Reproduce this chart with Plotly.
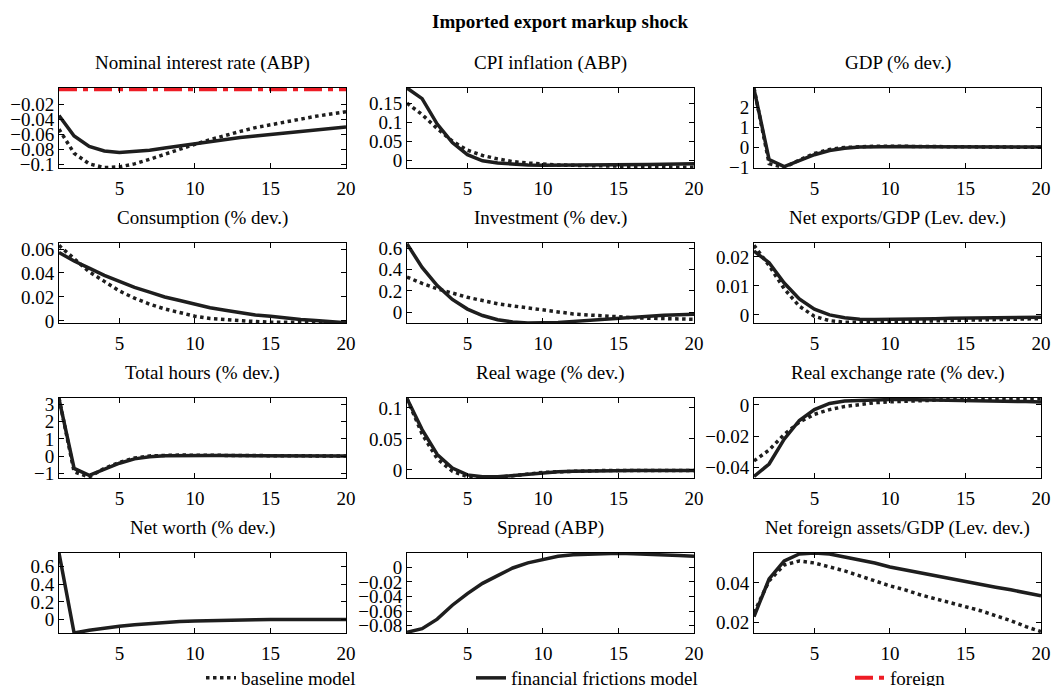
import plotly.graph_objects as go

W, H = 1053, 686
periods = list(range(1, 21))

# ---------------- data ----------------
nir_base = [-0.053, -0.085, -0.099, -0.104, -0.103, -0.099, -0.093, -0.086, -0.079, -0.073,
            -0.067, -0.061, -0.056, -0.051, -0.047, -0.043, -0.039, -0.036, -0.033, -0.030]
nir_ff = [-0.035, -0.062, -0.076, -0.082, -0.084, -0.083, -0.081, -0.078, -0.075, -0.072,
          -0.069, -0.066, -0.064, -0.062, -0.060, -0.058, -0.056, -0.054, -0.052, -0.050]
nir_foreign = [0, 0, 0, 0, 0, 0, 0, 0, 0, 0, 0, 0, 0, 0, 0, 0, 0, 0, 0, 0]

cpi_base = [0.150, 0.120, 0.083, 0.050, 0.026, 0.012, 0.003, -0.004, -0.008, -0.011,
            -0.013, -0.014, -0.015, -0.016, -0.017, -0.017, -0.018, -0.018, -0.019, -0.019]
cpi_ff = [0.190, 0.162, 0.095, 0.046, 0.014, -0.002, -0.008, -0.011, -0.013, -0.014,
          -0.014, -0.014, -0.014, -0.013, -0.013, -0.012, -0.012, -0.011, -0.011, -0.010]

gdp_base = [2.95, -0.80, -1.00, -0.62, -0.30, -0.10, 0.00, 0.05, 0.06, 0.06,
            0.05, 0.05, 0.04, 0.04, 0.03, 0.03, 0.02, 0.02, 0.01, 0.01]
gdp_ff = [2.90, -0.60, -0.95, -0.66, -0.36, -0.15, -0.04, 0.02, 0.04, 0.05,
          0.05, 0.04, 0.04, 0.04, 0.03, 0.03, 0.03, 0.02, 0.02, 0.02]

cons_base = [0.063, 0.052, 0.041, 0.033, 0.025, 0.019, 0.014, 0.010, 0.007, 0.004,
             0.002, 0.001, 0.000, -0.0005, -0.001, -0.0012, -0.0013, -0.0014, -0.0015, -0.0015]
cons_ff = [0.057, 0.050, 0.044, 0.038, 0.033, 0.028, 0.024, 0.020, 0.017, 0.014,
           0.011, 0.009, 0.007, 0.005, 0.004, 0.0025, 0.0013, 0.0003, -0.0007, -0.0015]

inv_base = [0.33, 0.27, 0.22, 0.18, 0.14, 0.11, 0.08, 0.06, 0.04, 0.02,
            0.005, -0.015, -0.025, -0.035, -0.045, -0.05, -0.055, -0.06, -0.065, -0.065]
inv_ff = [0.64, 0.42, 0.25, 0.12, 0.03, -0.03, -0.07, -0.09, -0.10, -0.10,
          -0.095, -0.085, -0.075, -0.062, -0.05, -0.042, -0.035, -0.028, -0.022, -0.018]

nx_base = [0.024, 0.017, 0.009, 0.003, -0.0005, -0.002, -0.0025, -0.0026, -0.0025, -0.0024,
           -0.0023, -0.0021, -0.0020, -0.0019, -0.0018, -0.0017, -0.0016, -0.0015, -0.0014, -0.0013]
nx_ff = [0.022, 0.018, 0.011, 0.0055, 0.002, 0.0, -0.001, -0.0015, -0.0016, -0.0016,
         -0.0015, -0.0014, -0.0013, -0.0012, -0.0011, -0.0011, -0.0010, -0.0009, -0.0009, -0.0008]

hours_base = [3.35, -0.90, -1.20, -0.70, -0.35, -0.10, 0.02, 0.06, 0.07, 0.06,
              0.05, 0.05, 0.04, 0.04, 0.03, 0.03, 0.02, 0.02, 0.01, 0.01]
hours_ff = [3.30, -0.70, -1.10, -0.75, -0.40, -0.15, -0.03, 0.03, 0.05, 0.05,
            0.05, 0.04, 0.04, 0.04, 0.03, 0.03, 0.03, 0.02, 0.02, 0.02]

wage_base = [0.115, 0.058, 0.018, -0.002, -0.011, -0.013, -0.012, -0.009, -0.006, -0.004,
             -0.003, -0.002, -0.0015, -0.001, -0.001, -0.001, -0.001, -0.001, -0.001, -0.001]
wage_ff = [0.115, 0.065, 0.025, 0.003, -0.008, -0.011, -0.011, -0.009, -0.006, -0.004,
           -0.003, -0.002, -0.0015, -0.001, -0.001, -0.001, -0.001, -0.001, -0.001, -0.001]

rer_base = [-0.036, -0.029, -0.019, -0.011, -0.006, -0.003, -0.001, 0.0005, 0.0015, 0.002,
            0.0025, 0.003, 0.0033, 0.0035, 0.0037, 0.0038, 0.0039, 0.004, 0.004, 0.004]
rer_ff = [-0.046, -0.038, -0.022, -0.010, -0.003, 0.001, 0.0025, 0.003, 0.0035, 0.0035,
          0.0035, 0.0034, 0.0033, 0.0032, 0.003, 0.0028, 0.0026, 0.0024, 0.0022, 0.002]

nw_ff = [0.75, -0.15, -0.12, -0.095, -0.075, -0.058, -0.044, -0.032, -0.022, -0.015,
         -0.009, -0.005, -0.002, 0.0, 0.001, 0.0015, 0.002, 0.002, 0.002, 0.002]

spread_ff = [-0.089, -0.084, -0.071, -0.052, -0.036, -0.022, -0.0115, -0.001, 0.006, 0.011,
             0.015, 0.017, 0.018, 0.019, 0.019, 0.0185, 0.018, 0.017, 0.016, 0.015]

nfa_base = [0.025, 0.041, 0.049, 0.051, 0.050, 0.048, 0.046, 0.0435, 0.041, 0.0385,
            0.0365, 0.034, 0.032, 0.030, 0.028, 0.026, 0.0235, 0.021, 0.018, 0.0155]
nfa_ff = [0.023, 0.042, 0.051, 0.0545, 0.055, 0.0545, 0.053, 0.0515, 0.050, 0.048,
          0.0465, 0.045, 0.0435, 0.042, 0.0405, 0.039, 0.0378, 0.0365, 0.035, 0.0335]

panel_titles = ["Nominal interest rate (ABP)", "CPI inflation (ABP)", "GDP (% dev.)",
                "Consumption (% dev.)", "Investment (% dev.)", "Net exports/GDP (Lev. dev.)",
                "Total hours (% dev.)", "Real wage (% dev.)", "Real exchange rate (% dev.)",
                "Net worth (% dev.)", "Spread (ABP)", "Net foreign assets/GDP (Lev. dev.)"]

y_ticks = [[-0.1, -0.08, -0.06, -0.04, -0.02], [0, 0.05, 0.1, 0.15], [-1, 0, 1, 2],
           [0, 0.02, 0.04, 0.06], [0, 0.2, 0.4, 0.6], [0, 0.01, 0.02],
           [-1, 0, 1, 2, 3], [0, 0.05, 0.1], [-0.04, -0.02, 0],
           [0, 0.2, 0.4, 0.6], [-0.08, -0.06, -0.04, -0.02, 0], [0.02, 0.04]]
y_ticklabels = [["−0.1", "−0.08", "−0.06", "−0.04", "−0.02"], ["0", "0.05", "0.1", "0.15"],
                ["−1", "0", "1", "2"], ["0", "0.02", "0.04", "0.06"], ["0", "0.2", "0.4", "0.6"],
                ["0", "0.01", "0.02"], ["−1", "0", "1", "2", "3"], ["0", "0.05", "0.1"],
                ["−0.04", "−0.02", "0"], ["0", "0.2", "0.4", "0.6"],
                ["−0.08", "−0.06", "−0.04", "−0.02", "0"], ["0.02", "0.04"]]
x_ticks = [5, 10, 15, 20]
x_ticklabels = ["5", "10", "15", "20"]

baseline_series = [nir_base, cpi_base, gdp_base, cons_base, inv_base, nx_base,
                   hours_base, wage_base, rer_base, None, None, nfa_base]
ff_series = [nir_ff, cpi_ff, gdp_ff, cons_ff, inv_ff, nx_ff,
             hours_ff, wage_ff, rer_ff, nw_ff, spread_ff, nfa_ff]

y_ranges = [[-0.1045, 0.0015], [-0.021, 0.19], [-1.02, 2.95],
            [-0.0017, 0.065], [-0.10, 0.648], [-0.0028, 0.0248],
            [-1.25, 3.35], [-0.013, 0.116], [-0.047, 0.0045],
            [-0.15, 0.75], [-0.09, 0.0195], [0.0148, 0.055]]

# ---------------- layout geometry (pixels) ----------------
col_px = [(59, 346), (407, 694), (754, 1041)]
row_px = [(88, 168), (243, 323), (398, 478), (553, 633)]

FONT = "Liberation Serif"
FS = 19

fig = go.Figure()
layout = dict(
    width=W, height=H, margin=dict(l=0, r=0, t=0, b=0, autoexpand=False),
    paper_bgcolor="white", plot_bgcolor="white",
    font=dict(family=FONT, size=FS, color="black"),
    annotations=[],
)

for i in range(12):
    r, c = divmod(i, 3)
    ax = "" if i == 0 else str(i + 1)
    x0, x1 = col_px[c]
    y0, y1 = row_px[r]
    common = dict(showline=True, linecolor="black", linewidth=1, mirror="ticks",
                  ticks="inside", ticklen=5, tickcolor="black", showgrid=False,
                  zeroline=False, tickfont=dict(family=FONT, size=FS, color="black"))
    layout["xaxis" + ax] = dict(domain=[x0 / W, x1 / W], range=[1, 20],
                                tickvals=x_ticks, ticktext=x_ticklabels,
                                anchor="y" + ax, ticklabelstandoff=3, **common)
    layout["yaxis" + ax] = dict(domain=[1 - y1 / H, 1 - y0 / H], range=y_ranges[i],
                                tickvals=y_ticks[i], ticktext=y_ticklabels[i],
                                anchor="x" + ax, **common)
    layout["annotations"].append(dict(
        text=panel_titles[i], x=(x0 + x1) / 2 / W, y=1 - (y0 - 25) / H,
        xref="paper", yref="paper", xanchor="center", yanchor="middle",
        showarrow=False, font=dict(family=FONT, size=FS, color="black")))

    xa, ya = "x" + ax, "y" + ax
    if baseline_series[i] is not None:
        fig.add_trace(go.Scatter(x=periods, y=baseline_series[i], mode="lines",
                                 line=dict(color="#1e1e1e", width=3.5, dash="dot"),
                                 xaxis=xa, yaxis=ya, name="baseline model",
                                 legend="legend", showlegend=(i == 0)))
    fig.add_trace(go.Scatter(x=periods, y=ff_series[i], mode="lines",
                             line=dict(color="#1e1e1e", width=3.5),
                             xaxis=xa, yaxis=ya, name="financial frictions model",
                             legend="legend2", showlegend=(i == 0)))
    if i == 0:
        fig.add_trace(go.Scatter(x=periods, y=nir_foreign, mode="lines",
                                 line=dict(color="#ee1c25", width=4,
                                           dash="18px,6px,5px,6px"),
                                 xaxis=xa, yaxis=ya, name="foreign",
                                 legend="legend3", showlegend=True))

layout["annotations"].append(dict(
    text="<b>Imported export markup shock</b>", x=560 / W, y=1 - 22 / H,
    xref="paper", yref="paper", xanchor="center", yanchor="middle", showarrow=False,
    font=dict(family=FONT, size=FS, color="black")))

leg_common = dict(orientation="h", yanchor="middle", xanchor="left",
                  bgcolor="rgba(0,0,0,0)", font=dict(family=FONT, size=FS, color="black"))
layout["legend"] = dict(x=201 / W, y=1 - 678 / H, **leg_common)
layout["legend2"] = dict(x=471 / W, y=1 - 678 / H, **leg_common)
layout["legend3"] = dict(x=850 / W, y=1 - 678 / H, **leg_common)

fig.update_layout(**layout)
fig.write_html("out.html")
